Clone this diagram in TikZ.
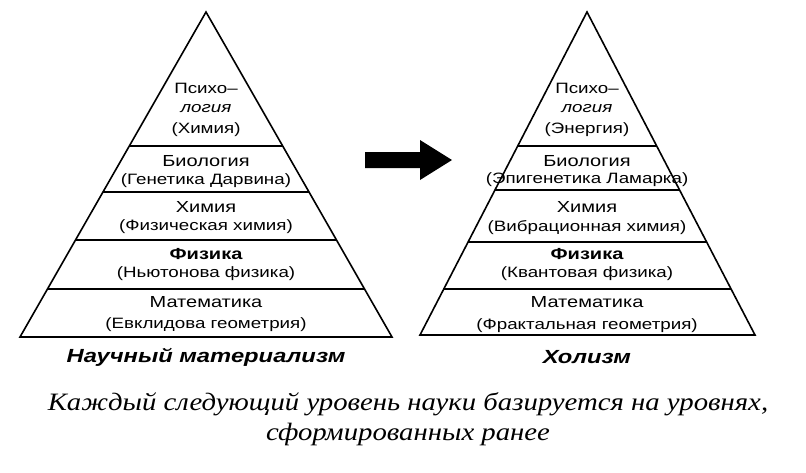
\documentclass[tikz,border=0pt]{standalone}
\usepackage{fontspec}
\setmainfont{Liberation Sans}[FakeStretch=1.25]
\newfontfamily\capfont{Liberation Serif}[FakeStretch=1.15]
\begin{document}
\begin{tikzpicture}[x=1pt,y=-1pt,
  lab/.style={font=\fontsize{15}{16}\selectfont, inner sep=0pt},
  big/.style={font=\fontsize{16}{17}\selectfont, inner sep=0pt},
  ttl/.style={font=\fontsize{19}{20}\selectfont\itshape\bfseries, inner sep=0pt},
  edge/.style={line width=1.6pt}]
\useasboundingbox (0,0) rectangle (806,472);
% left pyramid
\draw[edge, line join=miter] (206,12) -- (20,337) -- (392,337) -- cycle;
\foreach \y/\h in {146/76.6,192/103,240/130.5,289/158.5}
  \draw[edge] (206-\h,\y) -- (206+\h,\y);
% right pyramid
\draw[edge, line join=miter] (587,12) -- (420,335) -- (755,335) -- cycle;
\foreach \y/\h in {146/69.5,190/92.3,242/119.3,289/143.6}
  \draw[edge] (587-\h,\y) -- (587+\h,\y);
% arrow
\fill (365,152) -- (420,152) -- (420,140) -- (452,160) -- (420,180) -- (420,168) -- (365,168) -- cycle;
% left texts
\node[lab] (l1) at (206,88) {Психо–};
\node[lab,font=\fontsize{15}{16}\selectfont\itshape] (l2) at (206,109) {логия};
\node[lab] (l3) at (206,130) {(Химия)};
\node[big] (l4) at (206,161) {Биология};
\node[lab] (l5) at (206,181) {(Генетика Дарвина)};
\node[big] (l6) at (206,207) {Химия};
\node[lab] (l7) at (206,227) {(Физическая химия)};
\node[big,font=\fontsize{16}{17}\selectfont\bfseries] (l8) at (206,254) {Физика};
\node[lab] (l9) at (206,274) {(Ньютонова физика)};
\node[big] (l10) at (206,302) {Математика};
\node[lab] (l11) at (206,325) {(Евклидова геометрия)};
\node[ttl] (lt) at (206,357) {Научный материализм};
% right texts
\node[lab] (r1) at (587,88) {Психо–};
\node[lab,font=\fontsize{15}{16}\selectfont\itshape] (r2) at (587,109) {логия};
\node[lab] (r3) at (587,130) {(Энергия)};
\node[big] (r4) at (587,161) {Биология};
\node[lab] (r5) at (587,180) {(Эпигенетика Ламарка)};
\node[big] (r6) at (587,207) {Химия};
\node[lab] (r7) at (587,228) {(Вибрационная химия)};
\node[big,font=\fontsize{16}{17}\selectfont\bfseries] (r8) at (587,254) {Физика};
\node[lab] (r9) at (587,274) {(Квантовая физика)};
\node[big] (r10) at (587,302) {Математика};
\node[lab] (r11) at (587,326) {(Фрактальная геометрия)};
\node[ttl] (rt) at (587,357) {Холизм};
% caption
\node[inner sep=0pt,font=\capfont\itshape\fontsize{25}{26}\selectfont] (c1) at (408,404) {Каждый следующий уровень науки базируется на уровнях,};
\node[inner sep=0pt,font=\capfont\itshape\fontsize{25}{26}\selectfont] (c2) at (408,434) {сформированных ранее};
\end{tikzpicture}
\end{document}
